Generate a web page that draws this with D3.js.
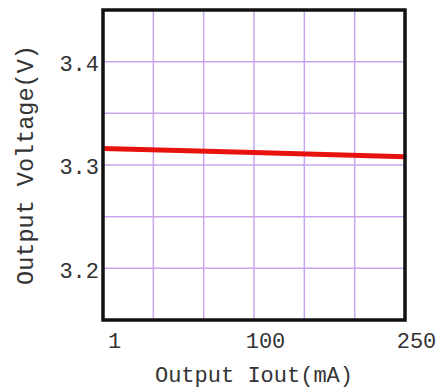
<!DOCTYPE html>
<html>
<head>
<meta charset="utf-8">
<script src="https://cdn.jsdelivr.net/npm/d3@7"></script>
<style>
  body { margin: 0; background: #fff; }
  text { font-family: "Liberation Mono", "DejaVu Sans Mono", monospace; fill: #333; }
</style>
</head>
<body>
<div class="chart"></div>
<script>
// data
const currentTicks = [1, 100, 250];
const voltageTicks = [3.2, 3.3, 3.4];
const iout = [1, 100, 250];
const vout = [3.316, 3.312, 3.308];

const margin = ({top: 10, right: 36, bottom: 70, left: 103});
const width = 441 - margin.left - margin.right;
const height = 390 - margin.top - margin.bottom;

const svg = d3.select('.chart')
    .append('svg')
    .attr("width", 441)
    .attr("height", 390)
    .append("g")
    .attr("transform", "translate(" + margin.left + "," + margin.top + ")");

// x axis is not linear: 1, 100, 250 are evenly spaced
const xScale = d3.scaleLinear()
    .domain([1, 100, 250])
    .range([0, width / 2, width]);

const yScale = d3.scaleLinear()
    .domain([3.15, 3.45])
    .range([height, 0]);

// grid: 6 columns, 6 rows
const xGrid = d3.range(1, 6).map(i => i * width / 6);
const yGrid = d3.range(3.2, 3.44, 0.05);

svg.selectAll(".vgrid")
    .data(xGrid)
    .enter()
    .append("line")
    .attr("x1", d => d).attr("x2", d => d)
    .attr("y1", 0).attr("y2", height)
    .attr("stroke", "#c8a6ee")
    .attr("stroke-width", 1.5);

svg.selectAll(".hgrid")
    .data(yGrid)
    .enter()
    .append("line")
    .attr("x1", 0).attr("x2", width)
    .attr("y1", d => yScale(d)).attr("y2", d => yScale(d))
    .attr("stroke", "#c8a6ee")
    .attr("stroke-width", 1.5);

const line = d3.line()
    .x((d, i) => xScale(iout[i]))
    .y(d => yScale(d));

svg.append("path")
    .datum(vout)
    .attr("d", line)
    .attr("fill", "none")
    .attr("stroke", "#e8120f")
    .attr("stroke-width", 5);

svg.append("rect")
    .attr("x", 0).attr("y", 0)
    .attr("width", width).attr("height", height)
    .attr("fill", "none")
    .attr("stroke", "#111")
    .attr("stroke-width", 3.5);

const xAxis = d3.axisBottom(xScale)
    .tickValues(currentTicks)
    .tickSize(0)
    .tickPadding(0);

const yAxis = d3.axisLeft(yScale)
    .tickValues(voltageTicks)
    .tickSize(0)
    .tickFormat(d3.format(".1f"));

const gx = svg.append("g")
    .attr("class", "axis x-axis")
    .attr("transform", `translate(0, ${height})`)
    .call(xAxis);
gx.select(".domain").remove();
gx.selectAll("text")
    .attr("dy", null)
    .attr("y", 28)
    .attr("x", 11)
    .style("font-size", "22px");

const gy = svg.append("g")
    .attr("class", "axis y-axis")
    .call(yAxis);
gy.select(".domain").remove();
gy.selectAll("text")
    .attr("x", -4)
    .attr("dy", "0.4em")
    .style("font-size", "22px");

svg.append("text")
    .attr("x", width / 2)
    .attr("y", height + 62)
    .attr("text-anchor", "middle")
    .style("font-size", "22px")
    .text("Output Iout(mA)");

svg.append("text")
    .attr("transform", `translate(${-margin.left + 33}, ${height / 2}) rotate(-90)`)
    .attr("text-anchor", "middle")
    .style("font-size", "23.5px")
    .text("Output Voltage(V)");
</script>
</body>
</html>
